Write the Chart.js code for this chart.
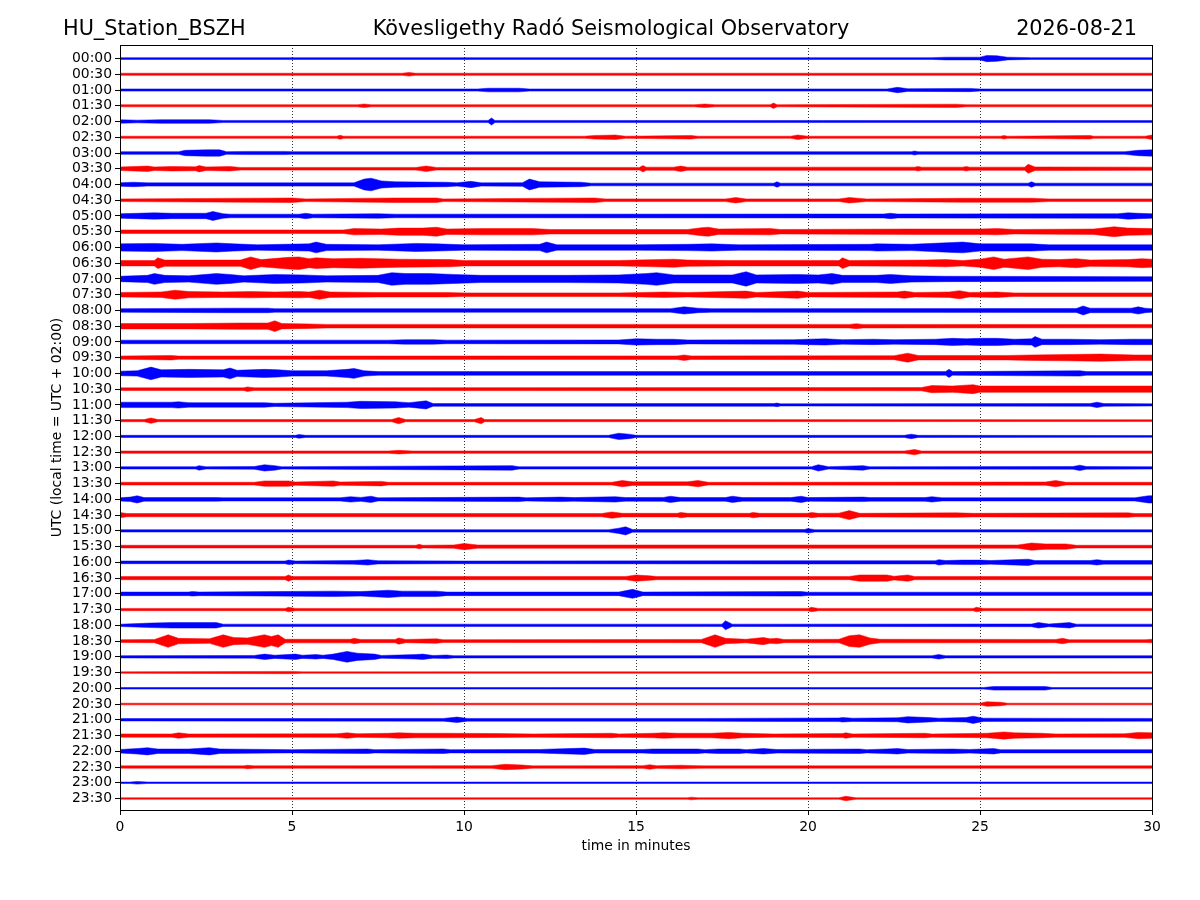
<!DOCTYPE html>
<html>
<head>
<meta charset="utf-8">
<title>HU_Station_BSZH helicorder</title>
<script src="https://cdn.jsdelivr.net/npm/chart.js@4.4.1/dist/chart.umd.min.js"></script>
<style>
  html, body { margin: 0; padding: 0; background: #fff; }
  #wrap { position: relative; width: 1200px; height: 900px; font-family: "DejaVu Sans", sans-serif; }
  #wrap canvas { position: absolute; left: 0; top: 0; }
  .ttl { position: absolute; top: 16px; font-size: 20.8px; line-height: 24px; color: #000; white-space: nowrap; }
  #t-left { left: 63px; }
  #t-mid { left: 611px; transform: translateX(-50%); }
  #t-right { right: 63px; }
</style>
</head>
<body>
<div id="wrap">
  <canvas id="heli" width="1200" height="900"></canvas>
  <div class="ttl" id="t-left">HU_Station_BSZH</div>
  <div class="ttl" id="t-mid">Kövesligethy Radó Seismological Observatory</div>
  <div class="ttl" id="t-right">2026-08-21</div>
</div>
<script>
// one trace per half hour, 00:00 at the top
const TIME_LABELS = [
  '00:00','00:30','01:00','01:30','02:00','02:30','03:00','03:30','04:00','04:30','05:00','05:30',
  '06:00','06:30','07:00','07:30','08:00','08:30','09:00','09:30','10:00','10:30','11:00','11:30',
  '12:00','12:30','13:00','13:30','14:00','14:30','15:00','15:30','16:00','16:30','17:00','17:30',
  '18:00','18:30','19:00','19:30','20:00','20:30','21:00','21:30','22:00','22:30','23:00','23:30'
];
const MINUTE_TICKS = [0, 5, 10, 15, 20, 25, 30];
const TRACE_COLORS = ['#0000ff', '#ff0000'];

// envelope of each trace: [minute, half amplitude]
const TRACE_ENVELOPES = [
  [[0,1],[23.6,1],[24,1.5],[25,1.5],[25.2,3.5],[25.5,3],[25.8,1.5],[26.5,1],[30,1]],
  [[0,1.2],[8.2,1.2],[8.4,2],[8.6,1.2],[30,1.2]],
  [[0,1.2],[10.4,1.2],[10.7,2],[11.6,2],[11.9,1.2],[22.3,1.2],[22.6,3],[22.9,1.5],[24.7,1.8],[25,1.2],[30,1.2]],
  [[0,1.2],[6.9,1.2],[7.1,2],[7.3,1.2],[16.7,1.2],[17,2],[17.3,1.2],[18.9,1.2],[19,3],[19.1,1.2],[24.3,1.8],[24.6,1.2],[30,1.2]],
  [[0,2],[0.5,1.5],[1.2,2],[2.6,2],[3,1.2],[10.7,1.2],[10.8,4],[10.9,1.2],[30,1]],
  [[0,1.2],[6.3,1.2],[6.4,2.2],[6.5,1.2],[13.5,1.2],[13.8,2],[14.4,2.5],[14.7,1.2],[16.6,2],[16.8,1.2],[19.5,1.2],[19.7,2.5],[20,1.2],[25.6,1.2],[25.7,2],[25.8,1.2],[28.2,2],[28.3,1.2],[29.8,1.2],[30,2.5]],
  [[0,1.5],[1.7,1.5],[1.9,3],[2.5,3.5],[2.9,3.5],[3.1,1.5],[3.7,1.8],[4.8,1.8],[5,1.5],[23,1.5],[23.1,2.2],[23.2,1.5],[29.2,1.5],[29.6,3],[30,3.5]],
  [[0,2],[0.8,3],[1,2],[1.5,2.5],[2.2,2.2],[2.3,3.5],[2.5,2],[3.2,2.5],[3.5,1.5],[8.6,1.5],[8.9,3],[9.2,1.5],[15.1,1.5],[15.2,3.5],[15.3,1.8],[16.1,1.8],[16.3,3],[16.5,1.8],[23.1,1.8],[23.2,2.5],[23.3,1.8],[24.5,1.8],[24.6,2.5],[24.7,1.8],[26.3,1.8],[26.4,5],[26.6,2],[30,1.8]],
  [[0,2],[0.4,2.5],[0.8,1.8],[6.8,1.8],[7.1,6],[7.3,7],[7.6,4],[8,3],[9.5,2.5],[9.8,1.8],[10.2,3.5],[10.5,1.8],[11.7,2],[11.9,6],[12.2,3],[13.4,2.5],[13.7,1.5],[19,1.5],[19.1,3],[19.2,1.5],[26.4,1.5],[26.5,3],[26.6,1.5],[30,1.5]],
  [[0,1.5],[5,2.5],[5.4,1.5],[8,2.5],[9.2,2.5],[9.4,1.5],[13.8,2.5],[14.1,1.5],[17.6,1.5],[17.9,3],[18.2,1.5],[20.9,1.5],[21.2,3],[21.7,1.5],[24.5,2.2],[26.5,2.2],[27,1.5],[30,1.5]],
  [[0,2.5],[0.5,3],[1,3.5],[1.5,3],[2.5,3],[2.7,5],[3,2.5],[3.2,2],[5.2,2],[5.4,3],[5.6,2],[7.5,2.5],[8,2],[22.2,2.2],[22.4,3],[22.6,2.2],[29,2.5],[29.3,3.5],[29.6,3],[30,2.5]],
  [[0,2],[6.5,2],[6.8,3.5],[7.6,3],[8.1,4],[8.8,4],[9.2,5],[9.5,3],[10.5,3.5],[12,3.5],[12.5,2.5],[16.5,2.5],[16.9,4.5],[17.1,5],[17.4,3],[18.9,3.5],[19.2,2.5],[23,3],[25,3],[25.5,3.5],[26,2.5],[28.3,3],[28.9,5.5],[29.3,4],[30,3.5]],
  [[0,4],[1,4.5],[1.8,3.5],[2.8,5],[3.3,4],[4,3],[5.5,4],[5.7,6],[6,3.5],[7.5,3],[8.6,4.5],[9.2,4],[10,3],[12.2,3.5],[12.4,6],[12.7,3],[15,3],[16.5,3.5],[17.2,4],[18,3],[21.8,3.5],[22,4],[23,3.5],[24.2,5.5],[24.5,6],[25,4],[26.5,4],[27,3],[30,3]],
  [[0,3],[1,3],[1.1,6],[1.3,3.5],[3.5,3.5],[3.8,7],[4.1,4],[4.9,6.5],[5.2,7],[5.5,5],[5.7,6],[6.2,5],[7,5.5],[8.1,4.5],[9.6,4],[10,3],[14.5,3],[15,3.5],[16.1,4.5],[16.5,3.5],[17.7,3],[20.9,3],[21,6],[21.2,3],[23.4,3.5],[24,4],[24.5,3],[25,4.5],[25.4,7],[25.7,4.5],[26.4,7],[26.8,4.5],[27.3,4],[27.8,5],[28.2,3.5],[29.3,4],[29.7,5],[30,4.5]],
  [[0,3],[0.8,4],[1,6],[1.3,4],[2,3.5],[2.8,6],[3.2,5],[3.6,3.5],[4.5,5],[5.3,4.5],[6,3.5],[7.5,4],[7.9,7],[8.3,6],[9,6],[9.7,5],[10.5,4],[13,4],[14.5,4.5],[15.3,6],[15.6,7],[16.1,4.5],[17.8,4.5],[18.2,8],[18.5,4.5],[19.7,5],[20.3,4.5],[20.7,6],[21,4],[22,4],[22.4,5],[23,3.5],[24,3],[30,2.5]],
  [[0,2.5],[1.2,3],[1.6,5],[2,3.5],[3,3],[3.8,3.5],[4.5,3],[5.2,3.5],[5.5,3],[5.8,5],[6.1,3],[7.5,2.5],[9.5,2.5],[10,2],[14.5,2],[15.8,3],[16.5,2.5],[18.2,4],[18.5,2.5],[19.7,4],[20,2.5],[22.6,3],[22.8,4],[23.1,2.5],[24.1,3],[24.4,4.5],[24.7,2.5],[25.5,3],[26,2],[30,2]],
  [[0,2],[3.2,2.5],[4.3,2.5],[4.5,2],[16,2],[16.4,4],[16.8,2.5],[17.2,2],[27.8,2.2],[28,5],[28.2,2.5],[29.4,2.5],[29.6,4],[29.8,2.5],[30,2]],
  [[0,3],[2,3],[3.5,3.5],[4.3,3.5],[4.5,6],[4.7,3],[5.5,2.5],[6,2],[21.2,2],[21.4,2.8],[21.6,2],[30,1.8]],
  [[0,2],[7.8,2],[8.3,2.5],[9.1,2.5],[9.5,2],[14.5,2.2],[15,3.5],[15.6,3],[16.1,3],[16.5,2.2],[19.6,2.5],[20,3],[20.5,3.5],[21,2.5],[21.9,3],[22.5,2.5],[23.7,3],[24.2,4],[24.6,3.5],[25,4],[25.5,4],[26,3],[26.5,3.5],[26.6,6],[26.8,3],[27.6,3],[28.5,2.5],[29.4,3],[30,3]],
  [[0,1.8],[1.5,2.5],[1.7,1.8],[16.2,2],[16.4,3],[16.6,2],[22.5,2.2],[22.9,5],[23.2,2.5],[25.8,2.5],[26.5,3],[27.5,3.5],[28.5,4],[29.5,3],[30,3]],
  [[0,2.5],[0.5,3],[0.9,7],[1.2,4],[2,4.5],[3,4],[3.2,6],[3.4,3.5],[4.2,4.5],[4.6,4],[5,3],[6,3],[6.6,4.5],[6.8,5.5],[7.1,3],[7.5,2],[24,2],[24.1,4.5],[24.2,2],[27.9,3],[28.1,2],[30,2]],
  [[0,1.5],[3.6,1.5],[3.7,2.5],[3.9,1.5],[23.3,1.8],[23.6,4],[24.2,3.5],[24.8,5],[25,3.5],[30,3.5]],
  [[0,3],[1.5,3],[1.7,3.5],[2,2.5],[4.2,2.5],[4.5,1.8],[6.6,3],[7,4],[8,3.5],[8.4,2.5],[8.9,4.5],[9.1,1.5],[19,1.5],[19.1,2],[19.2,1.2],[28.2,1.5],[28.4,3],[28.6,1.5],[30,1.2]],
  [[0,1.2],[0.7,1.2],[0.9,3],[1.1,1.2],[7.9,1.2],[8.1,3.5],[8.3,1.2],[10.3,1.2],[10.5,3.5],[10.6,1.2],[30,1]],
  [[0,1.2],[5.1,1.2],[5.2,2],[5.4,1.2],[14.2,1.2],[14.5,3.5],[14.8,2.5],[15,1.2],[22.8,1.2],[23,2.5],[23.2,1.2],[30,1]],
  [[0,1.3],[7.8,1.3],[8.1,2],[8.5,1.3],[22.8,1.3],[23.1,3],[23.3,1.3],[30,1.3]],
  [[0,1.3],[2.2,1.3],[2.3,2.5],[2.5,1.3],[3.9,1.5],[4.2,3.5],[4.5,2.5],[4.7,1.3],[11.4,2.5],[11.6,1.3],[20.1,1.3],[20.3,3.5],[20.6,1.3],[21.6,2.5],[21.8,1.3],[27.7,1.5],[27.9,3],[28.1,1.5],[30,1.3]],
  [[0,1.5],[3.9,1.5],[4.2,3],[4.9,3],[5.1,1.8],[6.2,3],[6.4,1.8],[7.6,2.5],[7.8,1.5],[14.3,1.5],[14.6,3.5],[14.9,2],[16.5,2],[16.8,3.5],[17.1,1.5],[26.9,1.8],[27.2,3.5],[27.5,1.5],[30,1.5]],
  [[0,1.8],[0.3,2.5],[0.5,4],[0.7,2],[2.8,2],[3,1.8],[6.4,1.8],[6.7,3],[7,2.2],[7.3,3.5],[7.5,1.8],[11.6,2.5],[11.8,1.8],[12.8,2.5],[13.2,2],[14.4,3],[14.7,2],[15.8,2.2],[16,3.5],[16.3,2],[17.6,2],[17.8,3.5],[18.1,2],[19.5,2],[19.8,3.5],[20,2],[21.6,2.5],[21.8,2],[23.4,2],[23.6,3],[23.9,1.8],[29.5,1.8],[29.9,4],[30,4]],
  [[0,3],[0.2,1.8],[14,1.8],[14.3,3.5],[14.6,2],[16.2,2],[16.3,3],[16.5,2],[18.3,2],[18.4,3],[18.6,2],[20,2],[20.1,3],[20.3,2],[20.9,2.2],[21.2,5],[21.5,2],[24.3,2.5],[24.8,2],[29.3,2.5],[29.5,1.8],[30,1.8]],
  [[0,1.3],[14.2,1.3],[14.5,3],[14.7,4.5],[14.9,1.5],[19.9,1.5],[20,2.5],[20.2,1.3],[30,1.3]],
  [[0,1.5],[8.6,1.5],[8.7,2.5],[8.8,1.5],[9.7,1.8],[10,3.5],[10.4,1.8],[26.1,1.8],[26.5,4],[26.9,3],[27.5,3],[27.8,1.5],[30,1.5]],
  [[0,1.5],[4.8,1.5],[4.9,2.5],[5.1,1.5],[6.8,2],[7.2,3],[7.5,1.8],[10,1.5],[20,1.8],[23.7,1.8],[23.8,3],[24,2],[24.5,2.5],[25,2.5],[25.3,2],[26.4,3.5],[26.6,2],[28.2,2],[28.4,3],[28.6,2],[30,2]],
  [[0,1.8],[4.8,1.8],[4.9,3.5],[5,1.8],[14.7,1.8],[15,3.5],[15.4,2.5],[15.6,1.8],[21.2,1.8],[21.5,3.5],[22.3,3.5],[22.5,2],[22.9,3.5],[23.1,1.8],[30,1.8]],
  [[0,2],[2,2],[2.1,2.5],[2.3,2],[4.5,2.5],[6.2,3],[7,2.5],[7.8,4],[8.2,3],[9.2,3],[9.5,2],[14.5,2],[14.9,5],[15.2,2],[19.8,2.5],[20,1.8],[30,1.8]],
  [[0,1.3],[4.8,1.3],[4.9,2.5],[5.1,1.3],[20,1.3],[20.1,2.5],[20.3,1.3],[24.8,1.3],[24.9,2.5],[25.1,1.3],[30,1.3]],
  [[0,1.3],[0.9,2.5],[1.5,3],[2.8,3],[3,1.3],[17.5,1.3],[17.6,5],[17.8,1.3],[26.5,1.5],[26.7,3],[27,1.5],[27.6,3],[27.8,1.3],[30,1.3]],
  [[0,1.5],[1,1.8],[1.4,7],[1.7,3],[2.6,2.5],[3,7],[3.3,4],[3.7,3.5],[4.2,7],[4.4,5],[4.6,7],[4.8,2],[6.7,2],[6.8,3],[7,1.8],[8,1.8],[8.1,3.5],[8.3,1.8],[9.2,2.5],[9.4,1.5],[16.9,1.8],[17.3,7],[17.6,3],[18.2,2],[18.7,4],[18.9,2.5],[19.1,3],[19.3,1.8],[20.9,2],[21.2,6],[21.5,7],[21.8,3.5],[22.1,2],[27.2,1.8],[27.4,3],[27.6,1.5],[29.8,1.5],[30,2]],
  [[0,1.3],[3.9,1.5],[4.2,3],[4.5,1.8],[5.1,3],[5.3,1.8],[5.7,2.5],[5.9,1.8],[6.2,3],[6.6,6],[6.9,4],[7.4,3],[7.6,1.5],[8.6,2.5],[8.8,3],[9.1,1.5],[9.5,2],[9.7,1.3],[23.6,1.3],[23.8,2.5],[24,1.3],[30,1.3]],
  [[0,0.8],[5,1.3],[5.3,0.8],[30,0.8]],
  [[0,0.9],[25.1,0.9],[25.4,2],[26.1,2],[26.9,2],[27.1,0.9],[30,0.9]],
  [[0,0.9],[25,0.9],[25.2,2.5],[25.6,2],[25.8,0.9],[30,0.9]],
  [[0,1.3],[9.4,1.5],[9.8,3],[10.1,1.5],[17,1.5],[19,1.8],[20.9,2],[21,2.5],[21.3,1.8],[22.6,2.2],[22.9,3.5],[23.5,2.5],[23.8,1.8],[24.6,2.5],[24.8,4],[25.1,1.8],[30,1.5]],
  [[0,1.8],[1.5,1.8],[1.7,3],[2,1.8],[6.3,2],[6.6,3],[6.9,2],[7.8,2.5],[8.1,3],[8.6,2.5],[9.5,2.5],[11,2.2],[12,1.8],[14.3,2.5],[14.5,1.8],[15.5,2.5],[15.8,3],[16.2,2.5],[17.2,2.5],[17.7,3.5],[18.1,2.5],[19,1.8],[21,2.2],[21.1,3],[21.3,1.8],[23.4,2.5],[23.6,1.8],[25.2,2.5],[25.7,4],[26,3],[26.8,2.5],[27.2,1.8],[29.2,2],[29.6,3.5],[30,3]],
  [[0,2],[0.5,3],[0.8,4],[1.1,2.5],[1.6,2.5],[2,2.5],[2.6,4],[2.9,2.5],[4.5,2],[5,1.8],[7.2,2.5],[7.4,1.8],[9.4,2.5],[9.6,1.8],[12.2,2],[12.6,2.5],[13.5,3.5],[13.8,2],[15.2,2],[15.5,2.5],[16.8,2.5],[17,1.8],[17.4,2.5],[18,2.5],[18.2,1.8],[18.7,3],[19.1,2],[21.5,2.5],[21.7,1.8],[22.3,2.5],[22.6,3],[22.9,2],[24.2,2.5],[24.7,2],[25.4,3],[25.6,1.8],[30,1.8]],
  [[0,1.3],[3.6,1.3],[3.7,2],[3.9,1.3],[10.8,1.5],[11.2,3],[11.7,2.2],[12,1.3],[15.2,1.5],[15.4,2.5],[15.6,1.5],[16.3,2],[16.8,1.5],[17,1.3],[30,1.3]],
  [[0,0.8],[0.3,0.8],[0.5,1.5],[0.8,0.8],[30,0.8]],
  [[0,0.8],[16.5,0.8],[16.6,1.5],[16.8,0.8],[20.9,0.8],[21.1,2.5],[21.4,0.8],[30,0.8]]
];

// amplitude unit in trace spacings (15.74 px per trace)
const AMP_SCALE = 0.9 / 15.74;
const FONT = 'DejaVu Sans';

const datasets = [];
TRACE_ENVELOPES.forEach((env, i) => {
  const color = TRACE_COLORS[i % 2];
  const common = { borderColor: color, backgroundColor: color, borderWidth: 0.5, pointRadius: 0, tension: 0 };
  datasets.push({ ...common, fill: false, data: env.map(([t, a]) => ({ x: t, y: i - a * AMP_SCALE })) });
  datasets.push({ ...common, fill: '-1', data: env.map(([t, a]) => ({ x: t, y: i + a * AMP_SCALE })) });
});

// matplotlib-style closed frame
const framePlugin = {
  id: 'frame',
  afterDatasetsDraw(chart) {
    const { ctx, chartArea: a } = chart;
    ctx.save();
    ctx.strokeStyle = '#000';
    ctx.lineWidth = 1;
    ctx.strokeRect(Math.round(a.left) + 0.5, Math.round(a.top) + 0.5, Math.round(a.right - a.left), Math.round(a.bottom - a.top));
    ctx.restore();
  }
};

new Chart(document.getElementById('heli'), {
  type: 'line',
  data: { datasets },
  options: {
    responsive: false,
    animation: false,
    events: [],
    layout: { padding: { left: 45, top: 45, right: 48, bottom: 41 } },
    plugins: { legend: { display: false }, tooltip: { enabled: false } },
    scales: {
      x: {
        type: 'linear',
        min: 0,
        max: 30,
        afterFit: s => { s.height = 49; },
        afterBuildTicks: s => { s.ticks = MINUTE_TICKS.map(v => ({ value: v })); },
        ticks: { color: '#000', padding: 4, font: { family: FONT, size: 13.9 }, maxRotation: 0 },
        grid: {
          color: c => (c.tick && (c.tick.value === 0 || c.tick.value === 30)) ? 'rgba(0,0,0,0)' : '#000',
          lineWidth: 0.8,
          tickColor: '#000',
          tickLength: 5,
          tickWidth: 1
        },
        border: { color: '#000', width: 1, dash: [1, 2] },
        title: { display: true, text: 'time in minutes', color: '#000', font: { family: FONT, size: 13.9 } }
      },
      y: {
        type: 'linear',
        reverse: true,
        min: -0.86,
        max: 47.73,
        afterFit: s => { s.width = 75; },
        afterBuildTicks: s => { s.ticks = TIME_LABELS.map((_, i) => ({ value: i })); },
        ticks: { color: '#000', padding: 3, autoSkip: false, font: { family: FONT, size: 13.9 }, callback: v => TIME_LABELS[v] },
        grid: { drawOnChartArea: false, color: '#000', tickLength: 5 },
        border: { color: '#000', width: 1 },
        title: { display: true, text: 'UTC (local time = UTC + 02:00)', color: '#000', font: { family: FONT, size: 13.9 } }
      }
    }
  },
  plugins: [framePlugin]
});
</script>
</body>
</html>
